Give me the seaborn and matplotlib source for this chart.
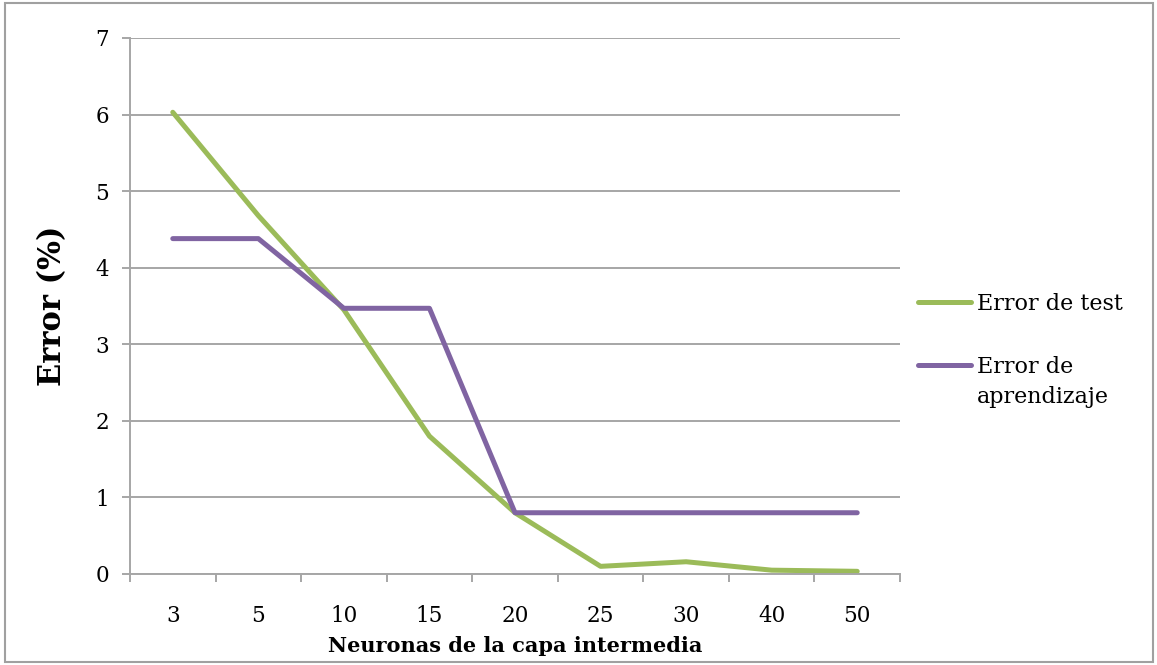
import matplotlib
matplotlib.use("Agg")
import matplotlib.pyplot as plt
from matplotlib.patches import Rectangle
import seaborn as sns
import pandas as pd

# Hidden-layer sizes and the error rates (%) measured for each
neuronas = ["3", "5", "10", "15", "20", "25", "30", "40", "50"]
error_test = [6.03, 4.68, 3.45, 1.80, 0.80, 0.10, 0.16, 0.05, 0.035]
error_aprendizaje = [4.38, 4.38, 3.47, 3.47, 0.80, 0.80, 0.80, 0.80, 0.80]
series = ["Error de test", "Error de aprendizaje"]
colores = ["#9BBB59", "#8064A2"]

df = pd.DataFrame({
    "Neuronas": neuronas * 2,
    "Error": error_test + error_aprendizaje,
    "Serie": [series[0]] * len(neuronas) + [series[1]] * len(neuronas),
})

sns.set_theme(style="white")
plt.rcParams["font.family"] = ["DejaVu Serif"]
plt.rcParams["text.color"] = "black"
plt.rcParams["axes.labelcolor"] = "black"
plt.rcParams["xtick.color"] = "black"
plt.rcParams["ytick.color"] = "black"

W, H = 1157, 665
fig = plt.figure(figsize=(W / 100, H / 100), dpi=100)
ax = fig.add_axes([130 / W, 1 - 574 / H, (900 - 130) / W, (574 - 38) / H])

grid_c = "#A6A6A6"
sns.lineplot(data=df, x="Neuronas", y="Error", hue="Serie", palette=colores,
             linewidth=3.6, sort=False, ax=ax, legend=True)

ax.set_xlim(-0.5, len(neuronas) - 0.5)
ax.set_ylim(0, 7)
ax.set_yticks(range(0, 8))
ax.yaxis.grid(True, color=grid_c, linewidth=1.4)
ax.set_axisbelow(True)

# category labels centred, tick marks between categories
ax.set_xticks([i - 0.5 for i in range(len(neuronas) + 1)])
ax.set_xticklabels([])
ax.set_xticks(range(len(neuronas)), minor=True)
ax.set_xticklabels(neuronas, minor=True)
ax.tick_params(axis="x", which="major", length=6, width=1.4, color=grid_c, direction="out", bottom=True)
ax.tick_params(axis="x", which="minor", length=0, pad=22, labelsize=15.5)
ax.tick_params(axis="y", length=6, width=1.4, color=grid_c, direction="out", left=True, pad=9, labelsize=15.5)

for s in ["top", "right"]:
    ax.spines[s].set_visible(False)
for s in ["left", "bottom"]:
    ax.spines[s].set_color(grid_c)
    ax.spines[s].set_linewidth(1.4)

ax.set_xlabel("Neuronas de la capa intermedia", fontsize=15, fontweight="bold", labelpad=7)
ax.set_ylabel("Error (%)", fontsize=22, fontweight="bold", labelpad=20)

# legend: the handle sits beside the first line of a wrapped label
handles, labels = ax.get_legend_handles_labels()
leg = ax.legend(handles, ["Error de test", "Error de"], loc="upper left",
                bbox_to_anchor=(907 / W, 1 - 282 / H),
                bbox_transform=fig.transFigure, frameon=False, fontsize=16,
                handlelength=2.4, handletextpad=0.25, labelspacing=1.85, borderpad=0)
fig.text(977 / W, 1 - 397 / H, "aprendizaje", fontsize=16, va="center", ha="left")

fig.patches.append(Rectangle((5 / W, 3 / H), (1153 - 5) / W, (662 - 3) / H,
                             transform=fig.transFigure, fill=False,
                             edgecolor="#A0A0A0", linewidth=1.5))

fig.savefig("out.png", dpi=100)
